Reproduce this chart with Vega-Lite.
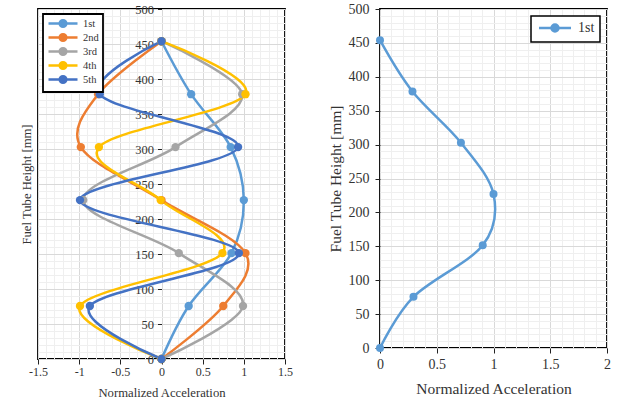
{
  "$schema": "https://vega.github.io/schema/vega-lite/v6.json",
  "padding": {"left": 19, "top": 1, "right": 5, "bottom": 0},
  "spacing": 33,
  "datasets": {
    "modes": [
      {"mode": "1st", "height": 0, "acc": 0},
      {"mode": "1st", "height": 75.7, "acc": 0.33},
      {"mode": "1st", "height": 151.3, "acc": 0.85},
      {"mode": "1st", "height": 227, "acc": 1.0},
      {"mode": "1st", "height": 302.7, "acc": 0.84},
      {"mode": "1st", "height": 378.3, "acc": 0.36},
      {"mode": "1st", "height": 454, "acc": 0},
      {"mode": "2nd", "height": 0, "acc": 0},
      {"mode": "2nd", "height": 75.7, "acc": 0.75},
      {"mode": "2nd", "height": 151.3, "acc": 1.02},
      {"mode": "2nd", "height": 227, "acc": 0},
      {"mode": "2nd", "height": 302.7, "acc": -0.98},
      {"mode": "2nd", "height": 378.3, "acc": -0.77},
      {"mode": "2nd", "height": 454, "acc": 0},
      {"mode": "3rd", "height": 0, "acc": 0},
      {"mode": "3rd", "height": 75.7, "acc": 0.99},
      {"mode": "3rd", "height": 151.3, "acc": 0.21},
      {"mode": "3rd", "height": 227, "acc": -0.95},
      {"mode": "3rd", "height": 302.7, "acc": 0.17},
      {"mode": "3rd", "height": 378.3, "acc": 0.98},
      {"mode": "3rd", "height": 454, "acc": 0},
      {"mode": "4th", "height": 0, "acc": 0},
      {"mode": "4th", "height": 75.7, "acc": -0.99},
      {"mode": "4th", "height": 151.3, "acc": 0.74},
      {"mode": "4th", "height": 227, "acc": -0.01},
      {"mode": "4th", "height": 302.7, "acc": -0.76},
      {"mode": "4th", "height": 378.3, "acc": 1.02},
      {"mode": "4th", "height": 454, "acc": 0},
      {"mode": "5th", "height": 0, "acc": 0},
      {"mode": "5th", "height": 75.7, "acc": -0.87},
      {"mode": "5th", "height": 151.3, "acc": 0.94},
      {"mode": "5th", "height": 227, "acc": -0.99},
      {"mode": "5th", "height": 302.7, "acc": 0.93},
      {"mode": "5th", "height": 378.3, "acc": -0.75},
      {"mode": "5th", "height": 454, "acc": 0}
    ],
    "first": [
      {"mode": "1st", "height": 0, "acc": 0},
      {"mode": "1st", "height": 75.5, "acc": 0.295},
      {"mode": "1st", "height": 151.5, "acc": 0.905},
      {"mode": "1st", "height": 227, "acc": 1.0},
      {"mode": "1st", "height": 302.8, "acc": 0.713},
      {"mode": "1st", "height": 378.3, "acc": 0.286},
      {"mode": "1st", "height": 454, "acc": 0}
    ]
  },
  "config": {
    "font": "Liberation Serif",
    "view": {"stroke": "black", "strokeWidth": 1.8},
    "axis": {"labelFont": "Liberation Serif", "titleFont": "Liberation Serif", "domain": false, "labelColor": "#333333", "titleColor": "#333333", "titleFontWeight": "normal", "tickColor": "#222222", "labelFlush": false, "labelOverlap": false, "grid": true},
    "legend": {"labelFont": "Liberation Serif"}
  },
  "resolve": {"scale": {"color": "independent"}, "legend": {"color": "independent"}},
  "hconcat": [
    {
      "width": 247,
      "height": 350,
      "data": {"name": "modes"},
      "mark": {"type": "line", "interpolate": "cardinal", "strokeWidth": 2.5, "point": {"size": 70, "filled": true, "opacity": 1}},
      "encoding": {
        "x": {
          "field": "acc", "type": "quantitative",
          "scale": {"domain": [-1.5, 1.5], "nice": false, "zero": false},
          "axis": {
            "values": [-1.5,-1.4,-1.3,-1.2,-1.1,-1,-0.9,-0.8,-0.7,-0.6,-0.5,-0.4,-0.3,-0.2,-0.1,0,0.1,0.2,0.3,0.4,0.5,0.6,0.7,0.8,0.9,1,1.1,1.2,1.3,1.4,1.5],
            "title": "Normalized Acceleration", "titleFontSize": 12.7, "titlePadding": 9,
            "labelFontSize": 12, "labelPadding": 2, "tickSize": 5,
            "labelExpr": "abs(datum.value*2 - round(datum.value*2)) < 0.001 ? '' + datum.value : ''",
            "gridColor": {"condition": {"test": "abs(datum.value*2 - round(datum.value*2)) < 0.001", "value": "#d9d9d9"}, "value": "#efefef"},
            "tickOpacity": {"condition": {"test": "abs(datum.value*2 - round(datum.value*2)) < 0.001", "value": 1}, "value": 0}
          }
        },
        "y": {
          "field": "height", "type": "quantitative",
          "scale": {"domain": [0, 500], "nice": false},
          "axis": {
            "values": [0,10,20,30,40,50,60,70,80,90,100,110,120,130,140,150,160,170,180,190,200,210,220,230,240,250,260,270,280,290,300,310,320,330,340,350,360,370,380,390,400,410,420,430,440,450,460,470,480,490,500],
            "offset": -123.5,
            "title": "Fuel Tube Height [mm]", "titleFontSize": 12.7, "titleX": -128, "titleY": 175, "titleAlign": "center",
            "labelFontSize": 12.5, "labelPadding": 4, "tickSize": 4,
            "labelExpr": "datum.value % 50 === 0 ? '' + datum.value : ''",
            "gridColor": {"condition": {"test": "datum.value % 50 === 0", "value": "#d9d9d9"}, "value": "#efefef"},
            "tickOpacity": {"condition": {"test": "datum.value % 50 === 0", "value": 1}, "value": 0}
          }
        },
        "color": {
          "field": "mode", "type": "nominal",
          "scale": {"domain": ["1st", "2nd", "3rd", "4th", "5th"], "range": ["#5B9BD5", "#ED7D31", "#A5A5A5", "#FFC000", "#4472C4"]},
          "legend": {
            "title": null, "orient": "top-left", "offset": 5, "padding": 4,
            "strokeColor": "black", "fillColor": "white",
            "labelFont": "Liberation Serif", "labelFontSize": 10.5, "labelColor": "#333333", "labelOffset": 25,
            "symbolType": "M-1,0H6.25M3.455,0A0.83,0.83,0,1,1,1.795,0A0.83,0.83,0,1,1,3.455,0Z",
            "symbolSize": 64, "symbolStrokeWidth": 2.5, "rowPadding": -6,
            "encode": {
              "legend": {"update": {"strokeWidth": {"value": 1.8}}},
              "symbols": {"update": {"fill": {"scale": "concat_0_color", "field": "value"}}}
            }
          }
        },
        "order": {"field": "height", "type": "quantitative"}
      }
    },
    {
      "width": 227,
      "height": 339,
      "data": {"name": "first"},
      "mark": {"type": "line", "interpolate": "cardinal", "strokeWidth": 2.5, "point": {"size": 64, "filled": true, "opacity": 1}},
      "encoding": {
        "x": {
          "field": "acc", "type": "quantitative",
          "scale": {"domain": [0, 2], "nice": false},
          "axis": {
            "values": [0,0.1,0.2,0.3,0.4,0.5,0.6,0.7,0.8,0.9,1,1.1,1.2,1.3,1.4,1.5,1.6,1.7,1.8,1.9,2],
            "title": "Normalized Acceleration", "titleFontSize": 15.5, "titlePadding": 10,
            "labelFontSize": 14, "labelPadding": 4, "tickSize": 5,
            "labelExpr": "abs(datum.value*2 - round(datum.value*2)) < 0.001 ? '' + datum.value : ''",
            "gridColor": {"condition": {"test": "abs(datum.value*2 - round(datum.value*2)) < 0.001", "value": "#d9d9d9"}, "value": "#efefef"},
            "tickOpacity": {"condition": {"test": "abs(datum.value*2 - round(datum.value*2)) < 0.001", "value": 1}, "value": 0}
          }
        },
        "y": {
          "field": "height", "type": "quantitative",
          "scale": {"domain": [0, 500], "nice": false},
          "axis": {
            "values": [0,10,20,30,40,50,60,70,80,90,100,110,120,130,140,150,160,170,180,190,200,210,220,230,240,250,260,270,280,290,300,310,320,330,340,350,360,370,380,390,400,410,420,430,440,450,460,470,480,490,500],
            "title": "Fuel Tube Height [mm]", "titleFontSize": 15.5, "titlePadding": 5,
            "labelFontSize": 14, "labelPadding": 6, "tickSize": 5,
            "labelExpr": "datum.value % 50 === 0 ? '' + datum.value : ''",
            "gridColor": {"condition": {"test": "datum.value % 50 === 0", "value": "#d9d9d9"}, "value": "#efefef"},
            "tickOpacity": {"condition": {"test": "datum.value % 50 === 0", "value": 1}, "value": 0}
          }
        },
        "color": {
          "field": "mode", "type": "nominal",
          "scale": {"domain": ["1st"], "range": ["#5B9BD5"]},
          "legend": {
            "title": null, "orient": "top-right", "offset": 7, "padding": 5,
            "strokeColor": "black", "fillColor": "white",
            "labelFont": "Liberation Serif", "labelFontSize": 14, "labelColor": "#333333", "labelOffset": 28,
            "symbolType": "M-1,0H7M3.875,0A0.875,0.875,0,1,1,2.125,0A0.875,0.875,0,1,1,3.875,0Z",
            "symbolSize": 64, "symbolStrokeWidth": 2.5, "symbolFillColor": "#5B9BD5",
            "encode": {"legend": {"update": {"strokeWidth": {"value": 1.5}}}}
          }
        },
        "order": {"field": "height", "type": "quantitative"}
      }
    }
  ]
}
